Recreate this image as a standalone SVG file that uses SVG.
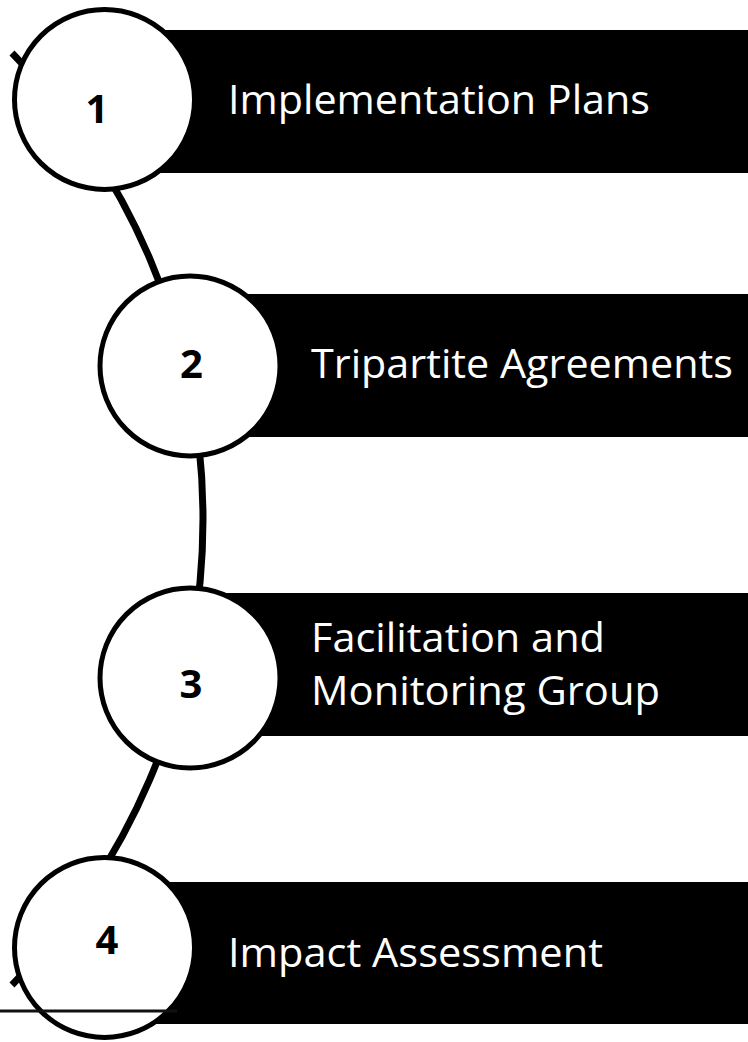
<svg xmlns="http://www.w3.org/2000/svg" width="748" height="1042" viewBox="0 0 748 1042">
  <style>
    .bar { fill: #000000; }
    .dot { fill: #ffffff; stroke: #000000; stroke-width: 5; }
    .num { font-family: "Open Sans", "Liberation Sans", sans-serif; font-weight: bold; font-size: 40px; fill: #000000; text-anchor: middle; }
    .lbl { font-family: "Open Sans", "Liberation Sans", sans-serif; font-size: 41px; fill: #ffffff; }
    .arc { fill: none; stroke: #000000; stroke-width: 7; }
  </style>
  <rect width="748" height="1042" fill="#ffffff"/>
  <g id="connectors">
    <path class="arc" d="M 12 53 A 664 664 0 0 1 12 985"/>
  </g>
  <g id="node1">
    <rect class="bar" x="105" y="30" width="643" height="143"/>
    <circle class="dot" cx="104.5" cy="99.5" r="90"/>
    <text class="num" x="97" y="123">1</text>
    <text class="lbl" x="228" y="114" textLength="422" lengthAdjust="spacingAndGlyphs">Implementation Plans</text>
  </g>
  <g id="node2">
    <rect class="bar" x="190" y="294" width="558" height="143"/>
    <circle class="dot" cx="190" cy="366" r="90"/>
    <text class="num" x="191.5" y="378">2</text>
    <text class="lbl" x="311" y="378" textLength="422" lengthAdjust="spacingAndGlyphs">Tripartite Agreements</text>
  </g>
  <g id="node3">
    <rect class="bar" x="190" y="593" width="558" height="143"/>
    <circle class="dot" cx="190" cy="678" r="90"/>
    <text class="num" x="191" y="698">3</text>
    <text class="lbl" x="311" y="652" textLength="294" lengthAdjust="spacingAndGlyphs">Facilitation and</text>
    <text class="lbl" x="311" y="705" textLength="349" lengthAdjust="spacingAndGlyphs">Monitoring Group</text>
  </g>
  <g id="node4">
    <rect class="bar" x="105" y="882" width="643" height="142"/>
    <circle class="dot" cx="104.5" cy="947.5" r="90"/>
    <text class="num" x="107" y="954">4</text>
    <text class="lbl" x="228" y="967" textLength="375" lengthAdjust="spacingAndGlyphs">Impact Assessment</text>
  </g>
  <line x1="0" y1="1011" x2="177" y2="1011" stroke="#111111" stroke-width="3"/>
</svg>
